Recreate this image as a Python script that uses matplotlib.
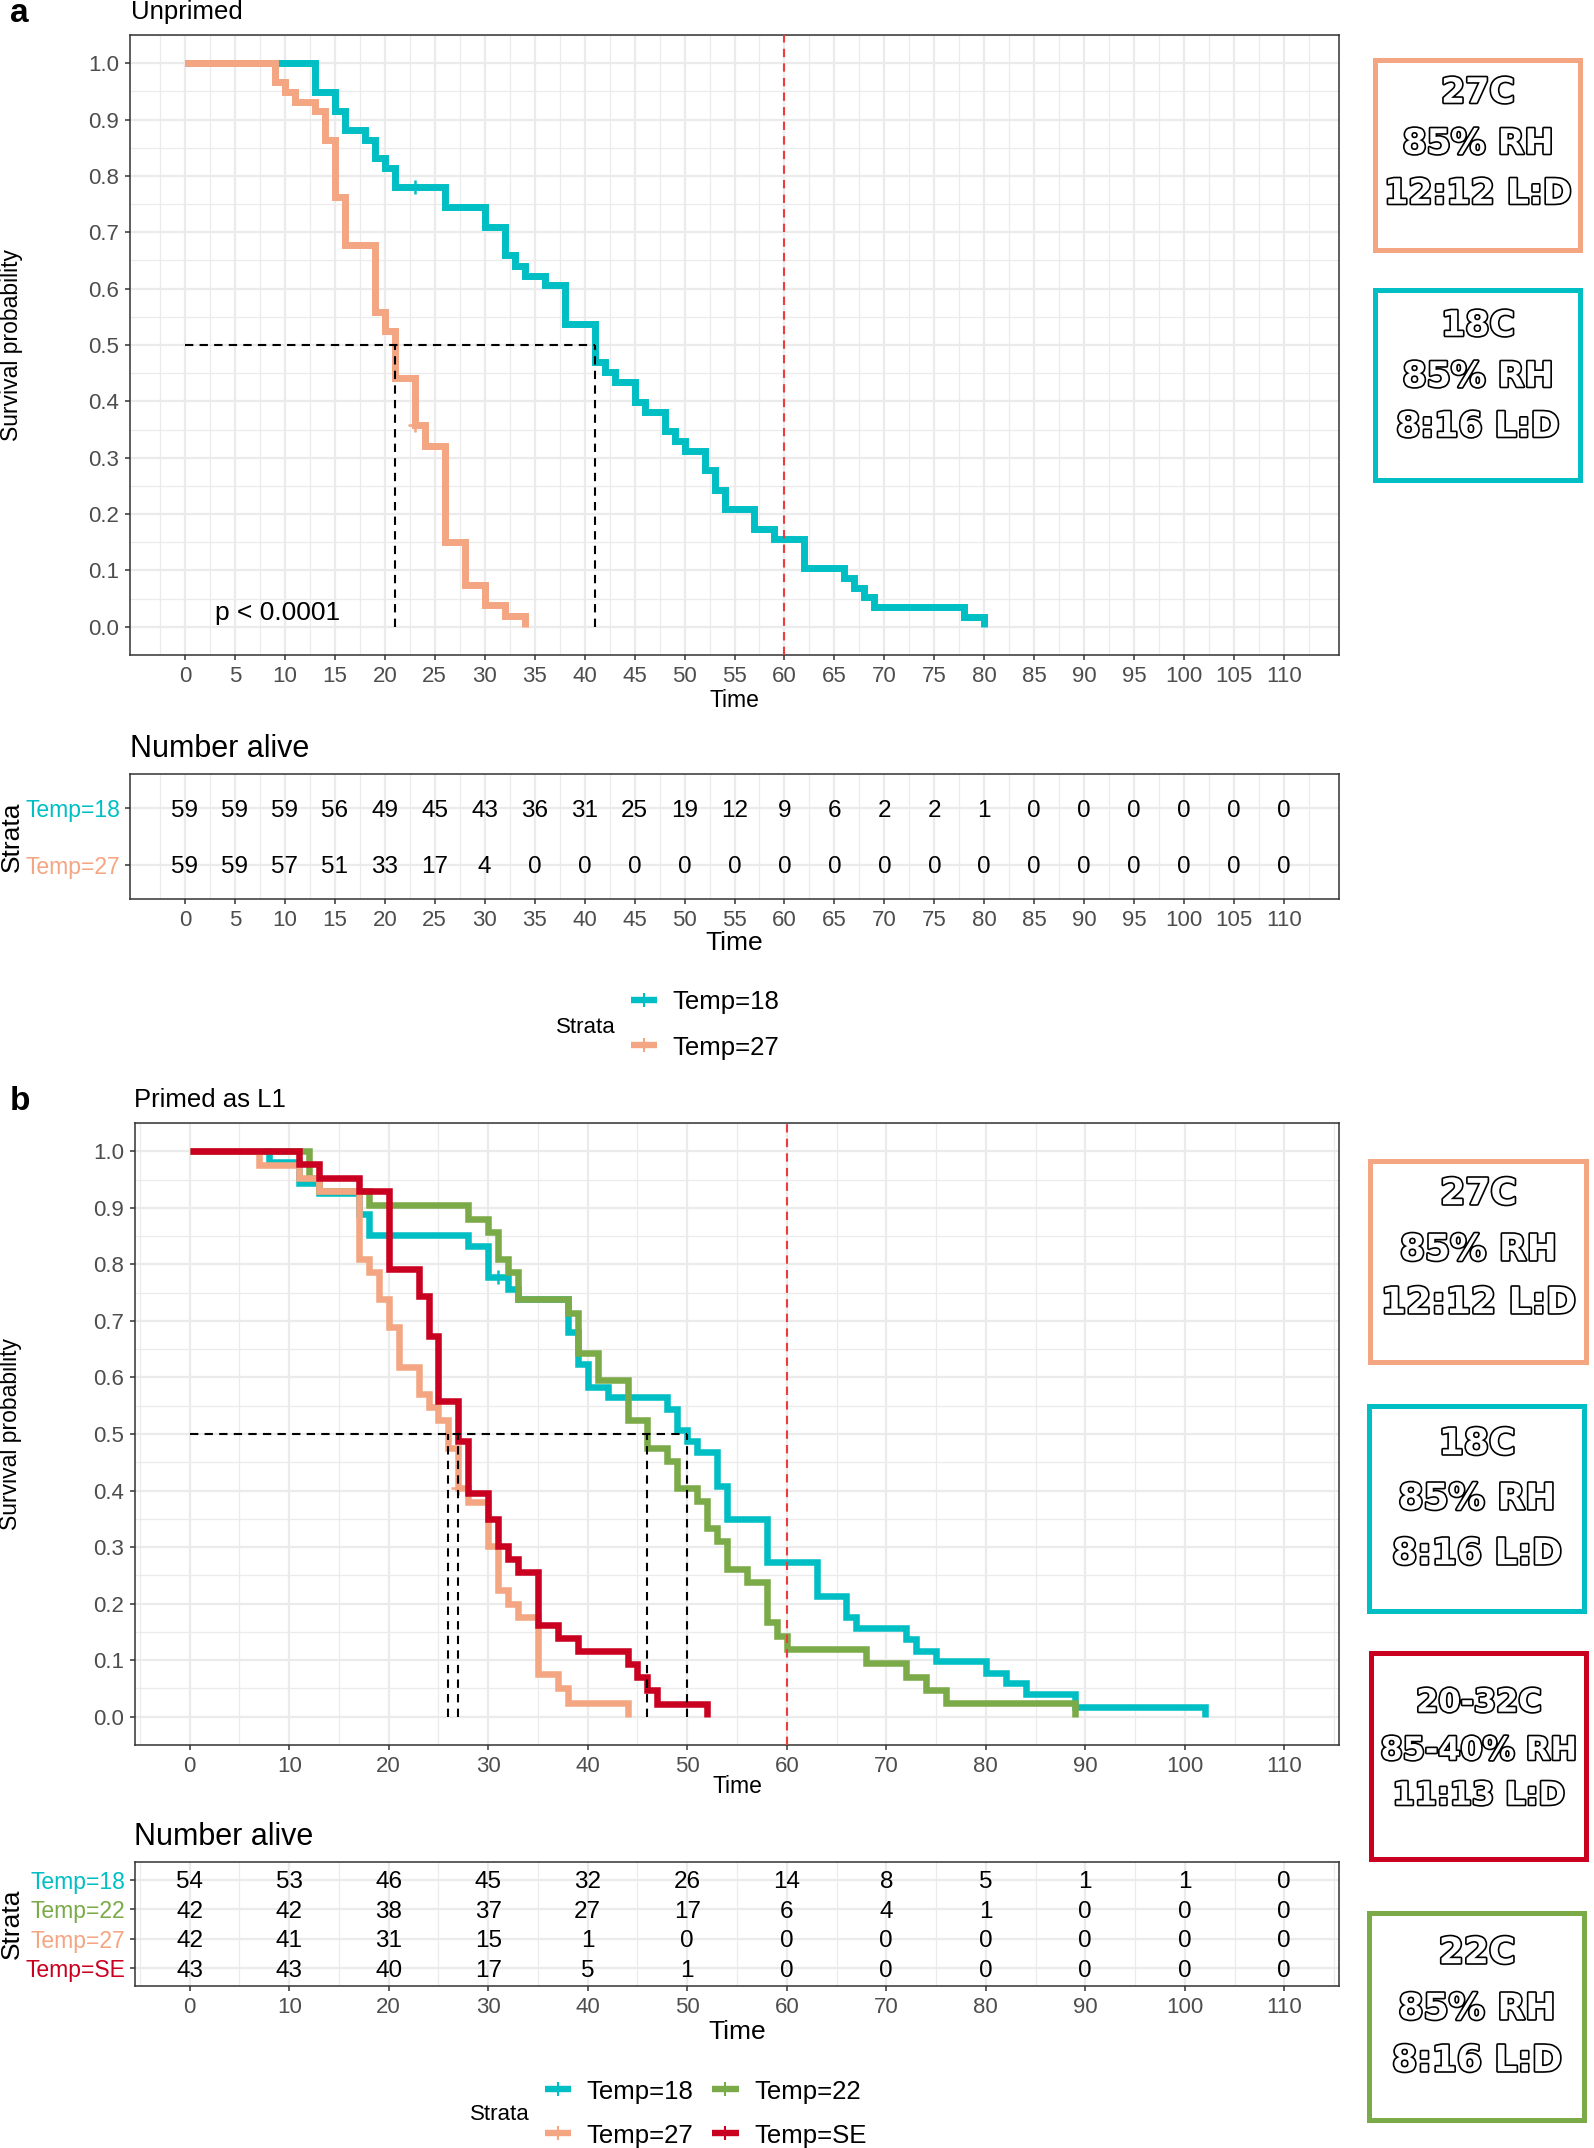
import matplotlib.pyplot as plt
import matplotlib.patheffects as pe
from matplotlib.patches import Rectangle
import numpy as np

plt.rcParams['font.family'] = ['Liberation Sans', 'DejaVu Sans']

# strata colours
TEAL, GREEN, SALMON, RED = '#00BFC4', '#7AAB48', '#F4A582', '#CA0020'
GRID, FRAME, TICK = '#EBEBEB', '#333333', '#4D4D4D'

#---------------- panel a : unprimed ----------------#
a18_time = [0, 13, 15, 16, 18, 19, 20, 21, 26, 30, 32, 33, 34, 36, 38, 41, 42, 43, 45, 46,
            48, 49, 50, 52, 53, 54, 57, 59, 62, 66, 67, 68, 69, 78, 80]
a18_surv = [1.0, 0.949, 0.915, 0.881, 0.864, 0.831, 0.814, 0.780, 0.745, 0.709, 0.659, 0.641,
            0.623, 0.607, 0.538, 0.470, 0.452, 0.435, 0.399, 0.381, 0.347, 0.329, 0.312, 0.278,
            0.242, 0.209, 0.174, 0.156, 0.104, 0.086, 0.069, 0.053, 0.035, 0.017, 0.0]
a18_censor = [23]
a27_time = [0, 9, 10, 11, 13, 14, 15, 16, 19, 20, 21, 23, 24, 26, 28, 30, 32, 34]
a27_surv = [1.0, 0.966, 0.949, 0.932, 0.915, 0.864, 0.763, 0.678, 0.559, 0.525, 0.441, 0.358,
            0.320, 0.151, 0.075, 0.038, 0.019, 0.0]
a27_censor = [23]

risk_a_times = list(range(0, 111, 5))
risk_a_18 = [59, 59, 59, 56, 49, 45, 43, 36, 31, 25, 19, 12, 9, 6, 2, 2, 1, 0, 0, 0, 0, 0, 0]
risk_a_27 = [59, 59, 57, 51, 33, 17, 4, 0, 0, 0, 0, 0, 0, 0, 0, 0, 0, 0, 0, 0, 0, 0, 0]

#---------------- panel b : primed as L1 ----------------#
b18_time = [0, 8, 11, 13, 17, 18, 28, 30, 32, 33, 38, 39, 40, 42, 48, 49, 50, 51, 53, 54, 58,
            63, 66, 67, 72, 73, 75, 80, 82, 84, 89, 102]
b18_surv = [1.0, 0.981, 0.944, 0.926, 0.889, 0.852, 0.833, 0.778, 0.757, 0.738, 0.680, 0.623,
            0.584, 0.565, 0.545, 0.507, 0.488, 0.468, 0.408, 0.350, 0.273, 0.214, 0.176, 0.157,
            0.137, 0.117, 0.098, 0.078, 0.059, 0.040, 0.018, 0.0]
b18_censor = [31]
b22_time = [0, 12, 13, 18, 28, 30, 31, 32, 33, 38, 39, 41, 44, 46, 48, 49, 51, 52, 53, 54, 56,
            58, 59, 60, 68, 72, 74, 76, 89]
b22_surv = [1.0, 0.952, 0.929, 0.905, 0.881, 0.857, 0.810, 0.786, 0.738, 0.714, 0.643, 0.595,
            0.524, 0.476, 0.452, 0.405, 0.381, 0.333, 0.310, 0.262, 0.238, 0.167, 0.143, 0.119,
            0.095, 0.071, 0.048, 0.024, 0.0]
b22_censor = []
b27_time = [0, 7, 11, 13, 17, 18, 19, 20, 21, 23, 24, 25, 26, 27, 28, 30, 31, 32, 33, 35, 37, 38, 44]
b27_surv = [1.0, 0.976, 0.952, 0.929, 0.810, 0.786, 0.738, 0.690, 0.619, 0.571, 0.548, 0.524,
            0.476, 0.405, 0.380, 0.302, 0.225, 0.199, 0.177, 0.076, 0.051, 0.025, 0.0]
b27_censor = [27]
bse_time = [0, 11, 13, 17, 20, 23, 24, 25, 27, 28, 30, 31, 32, 33, 35, 37, 39, 44, 45, 46, 47, 52]
bse_surv = [1.0, 0.977, 0.953, 0.930, 0.791, 0.744, 0.674, 0.558, 0.488, 0.395, 0.349, 0.302,
            0.279, 0.256, 0.163, 0.140, 0.116, 0.093, 0.070, 0.047, 0.023, 0.0]
bse_censor = []

risk_b_times = list(range(0, 111, 10))
risk_b_18 = [54, 53, 46, 45, 32, 26, 14, 8, 5, 1, 1, 0]
risk_b_22 = [42, 42, 38, 37, 27, 17, 6, 4, 1, 0, 0, 0]
risk_b_27 = [42, 41, 31, 15, 1, 0, 0, 0, 0, 0, 0, 0]
risk_b_se = [43, 43, 40, 17, 5, 1, 0, 0, 0, 0, 0, 0]

# rearing conditions shown in the side boxes
box_a = [['27C', '85% RH', '12:12 L:D'], ['18C', '85% RH', '8:16 L:D']]
box_b = [['27C', '85% RH', '12:12 L:D'], ['18C', '85% RH', '8:16 L:D'],
         ['20-32C', '85-40% RH', '11:13 L:D'], ['22C', '85% RH', '8:16 L:D']]

W, H = 1594, 2148
fig = plt.figure(figsize=(W / 100, H / 100), dpi=100)


def add_ax(x0, y0, x1, y1):
    # pixel box, origin top-left -> figure fraction
    return fig.add_axes([x0 / W, 1 - y1 / H, (x1 - x0) / W, (y1 - y0) / H])


def frame(ax):
    for s in ax.spines.values():
        s.set_color(FRAME)
        s.set_linewidth(1.1)
    ax.set_axisbelow(True)
    ax.tick_params(which='major', length=3.8, width=1.1, color=FRAME,
                   labelcolor=TICK, labelsize=16, pad=4)
    ax.tick_params(which='minor', length=0)
    ax.grid(which='major', color=GRID, lw=1.6)
    ax.grid(which='minor', color=GRID, lw=0.9)


def xscale(ax, step):
    ax.set_xlim(-5.5, 115.5)
    ax.set_xticks(np.arange(0, 111, step))
    ax.set_xticks(np.arange(-step / 2, 116, step), minor=True)


def surv_panel(ax, curves, step, lw, ylab_x, xlab_y):
    xscale(ax, step)
    ax.set_ylim(-0.05, 1.05)
    ax.set_yticks(np.arange(0, 1.01, 0.1))
    ax.set_yticks(np.arange(-0.05, 1.06, 0.1), minor=True)
    ax.yaxis.set_major_formatter('{x:.1f}')
    frame(ax)
    medians = []
    for t, s, cens, c in curves:
        ax.step(t, s, where='post', color=c, lw=lw, solid_joinstyle='miter',
                solid_capstyle='butt', zorder=3)
        for tc in cens:
            sc = s[np.searchsorted(t, tc, side='right') - 1]
            ax.plot(tc, sc, marker='+', ms=10, mew=1.8, color=c, zorder=3)
        medians.append(t[int(np.argmax(np.array(s) <= 0.5))])
    # median survival guides
    ax.plot([0, max(medians)], [0.5, 0.5], color='k', lw=1.5, ls=(0, (4, 3)), zorder=4)
    for m in medians:
        ax.plot([m, m], [0, 0.5], color='k', lw=1.5, ls=(0, (4, 3)), zorder=4)
    ax.axvline(60, color='#EE3B3B', lw=1.5, ls=(0, (4, 3)), zorder=4)
    ax.set_ylabel('Survival probability', fontsize=16.5, va='center')
    ax.yaxis.set_label_coords(ylab_x, 0.5)
    ax.set_xlabel('Time', fontsize=16.5, va='center')
    ax.xaxis.set_label_coords(0.5, xlab_y)


def risk_panel(ax, times, rows, labels, colors, step, ylab_x, xlab_y):
    xscale(ax, step)
    n = len(rows)
    ys = np.arange(n, 0, -1)
    ax.set_ylim(0.4, n + 0.6)
    ax.set_yticks(ys)
    ax.set_yticklabels(labels)
    frame(ax)
    ax.tick_params(axis='y', pad=3, labelsize=16.5)
    for lab, c in zip(ax.get_yticklabels(), colors):
        lab.set_color(c)
    for y, vals in zip(ys, rows):
        for t, v in zip(times, vals):
            ax.text(t, y, str(v), ha='center', va='center_baseline', fontsize=17.5)
    ax.set_ylabel('Strata', fontsize=19, va='center')
    ax.yaxis.set_label_coords(ylab_x, 0.5)
    ax.set_xlabel('Time', fontsize=19, va='center')
    ax.xaxis.set_label_coords(0.5, xlab_y)


# panel a
ax_a = add_ax(130, 35, 1339, 655)
surv_panel(ax_a, [(a18_time, a18_surv, a18_censor, TEAL),
                  (a27_time, a27_surv, a27_censor, SALMON)], 5, 5.0, -0.0984, -0.0726)
ax_a.text(3.0, 0.012, 'p < 0.0001', fontsize=19, ha='left', va='baseline')

rk_a = add_ax(130, 774, 1339, 899)
risk_panel(rk_a, risk_a_times, [risk_a_18, risk_a_27], ['Temp=18', 'Temp=27'],
           [TEAL, SALMON], 5, -0.0976, -0.352)

# panel b
ax_b = add_ax(135, 1123, 1339, 1745)
surv_panel(ax_b, [(b18_time, b18_surv, b18_censor, TEAL),
                  (b22_time, b22_surv, b22_censor, GREEN),
                  (b27_time, b27_surv, b27_censor, SALMON),
                  (bse_time, bse_surv, bse_censor, RED)], 10, 4.7, -0.103, -0.0675)

rk_b = add_ax(135, 1862, 1339, 1986)
risk_panel(rk_b, risk_b_times, [risk_b_18, risk_b_22, risk_b_27, risk_b_se],
           ['Temp=18', 'Temp=22', 'Temp=27', 'Temp=SE'], [TEAL, GREEN, SALMON, RED],
           10, -0.102, -0.371)

# overlay in pixel coordinates for titles, legends and condition boxes
ov = fig.add_axes([0, 0, 1, 1])
ov.set_xlim(0, W)
ov.set_ylim(H, 0)
ov.axis('off')

ov.text(10, 22, 'a', fontsize=24, fontweight='bold', va='baseline')
ov.text(131, 19, 'Unprimed', fontsize=18.5, va='baseline')
ov.text(130, 757, 'Number alive', fontsize=22, va='baseline')
ov.text(10, 1110, 'b', fontsize=24, fontweight='bold', va='baseline')
ov.text(134, 1107, 'Primed as L1', fontsize=18.5, va='baseline')
ov.text(134, 1845, 'Number alive', fontsize=22, va='baseline')


def legend_key(x0, x1, y, c, label):
    ov.plot([x0, x1], [y, y], color=c, lw=4.6, solid_capstyle='butt')
    ov.plot([(x0 + x1) / 2], [y], marker='|', ms=10, mew=1.5, color=c)
    ov.text(x1 + 15, y, label, fontsize=18.5, va='center_baseline')


ov.text(586, 1025, 'Strata', fontsize=16, ha='center', va='center_baseline')
legend_key(631, 657, 1000, TEAL, 'Temp=18')
legend_key(631, 657, 1045, SALMON, 'Temp=27')

ov.text(500, 2112, 'Strata', fontsize=16, ha='center', va='center_baseline')
legend_key(545, 571, 2089, TEAL, 'Temp=18')
legend_key(712, 739, 2089, GREEN, 'Temp=22')
legend_key(545, 571, 2133, SALMON, 'Temp=27')
legend_key(712, 739, 2133, RED, 'Temp=SE')


def cond_box(x0, y0, x1, y1, c, lines, centers, size):
    ov.add_patch(Rectangle((x0 + 2.5, y0 + 2.5), x1 - x0 - 5, y1 - y0 - 5,
                           fill=False, ec=c, lw=3.6))
    cap = 0.729 * size * 100 / 72
    for txt, yc in zip(lines, centers):
        ov.text((x0 + x1) / 2, yc + cap / 2, txt, ha='center', va='baseline',
                fontsize=size, family='DejaVu Sans', fontweight='bold', color='white',
                path_effects=[pe.withStroke(linewidth=2.4, foreground='black')])


cond_box(1373, 57, 1583, 252, SALMON, box_a[0], [90, 141, 191], 25)
cond_box(1373, 287, 1583, 482, TEAL, box_a[1], [323, 374, 424], 25)
cond_box(1368, 1158, 1589, 1364, SALMON, box_b[0], [1191, 1247, 1300], 26)
cond_box(1367, 1403, 1587, 1613, TEAL, box_b[1], [1441, 1496, 1551], 26)
cond_box(1369, 1650, 1589, 1861, RED, box_b[2], [1700, 1748, 1793], 23)
cond_box(1367, 1910, 1587, 2122, GREEN, box_b[3], [1950, 2006, 2058], 26)

fig.savefig('out.png', dpi=100)
